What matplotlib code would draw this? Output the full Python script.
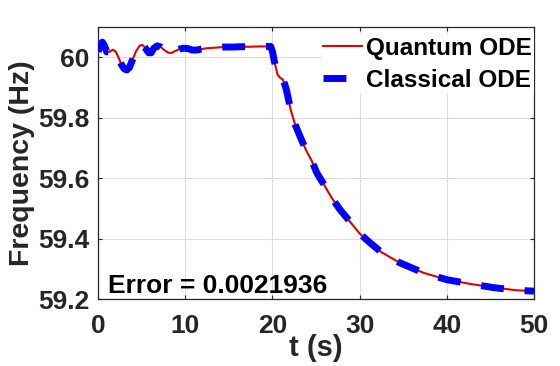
import matplotlib
matplotlib.use("Agg")
import matplotlib.pyplot as plt

plt.rcParams['font.family'] = ['Liberation Sans', 'DejaVu Sans']
plt.rcParams['font.weight'] = 'bold'

# time (s) and frequency (Hz)
t = [0.0, 0.25, 0.5, 0.75, 1.0, 1.3, 1.7, 2.0, 2.3, 2.7, 3.0, 3.3, 3.6, 4.0,
     4.4, 4.8, 5.1, 5.4, 5.8, 6.1, 6.4, 6.8, 7.2, 7.6, 8.0, 8.4, 8.8, 9.3,
     9.8, 10.3, 10.8, 11.3, 11.8, 12.5, 13.5, 14.5, 15.5, 16.5, 17.5, 18.5,
     19.5, 19.8, 20.0, 20.2, 20.4, 20.6, 20.9, 21.2, 21.4, 21.6, 21.85, 22.1,
     22.6, 23.2, 23.9, 24.5, 25.1, 25.8, 26.8, 27.75, 28.7, 30.0, 31.2, 32.5,
     34.6, 37.3, 40.0, 42.7, 45.3, 48.0, 50.0]
freq = [60.018, 60.040, 60.050, 60.038, 60.018, 60.018, 60.025, 60.020,
        60.003, 59.975, 59.962, 59.958, 59.966, 59.995, 60.022, 60.039,
        60.041, 60.032, 60.015, 60.015, 60.030, 60.038, 60.034, 60.024,
        60.016, 60.014, 60.020, 60.027, 60.030, 60.029, 60.024, 60.024,
        60.027, 60.030, 60.032, 60.034, 60.034, 60.035, 60.035, 60.036,
        60.036, 60.036, 60.020, 59.990, 59.965, 59.942, 59.932, 59.926,
        59.912, 59.893, 59.860, 59.826, 59.778, 59.736, 59.690, 59.658,
        59.617, 59.584, 59.535, 59.496, 59.463, 59.417, 59.386, 59.355,
        59.320, 59.287, 59.264, 59.250, 59.238, 59.229, 59.226]

xticks = [0, 10, 20, 30, 40, 50]
yticks = [59.2, 59.4, 59.6, 59.8, 60.0]
ytick_labels = ['59.2', '59.4', '59.6', '59.8', '60']
error_value = 0.0021936

dark = '#262626'

fig = plt.figure(figsize=(5.6, 3.66), dpi=100)
ax = fig.add_axes([0.175, 0.183, 0.7786, 0.743])

ax.plot(t, freq, color='#e00000', linewidth=1.5, label='Quantum ODE', zorder=3)
ax.plot(t, freq, color='#0000ff', linewidth=5, dashes=(3.3, 3.0),
        label='Classical ODE', zorder=4)

ax.set_xlim(0, 50)
ax.set_ylim(59.2, 60.1)
ax.set_xticks(xticks)
ax.set_yticks(yticks)
ax.set_yticklabels(ytick_labels)
ax.grid(True, color='#dcdcdc', linewidth=0.8)
ax.set_axisbelow(True)

ax.tick_params(direction='in', length=3, width=0.8, colors=dark,
               labelsize=19, top=True, right=True)
ax.tick_params(axis='x', pad=11)
ax.tick_params(axis='y', pad=6)
for lab in ax.get_xticklabels() + ax.get_yticklabels():
    lab.set_fontweight('bold')
for sp in ax.spines.values():
    sp.set_color(dark)
    sp.set_linewidth(0.9)

ax.set_xlabel('t (s)', fontsize=21, fontweight='bold', color=dark)
ax.set_ylabel('Frequency (Hz)', fontsize=20.5, fontweight='bold', color=dark)
ax.xaxis.set_label_coords(0.5, -0.13)
ax.yaxis.set_label_coords(-0.145, 0.5)

ax.text(0.023, 0.022, 'Error = %.7f' % error_value, transform=ax.transAxes,
        fontsize=19, fontweight='bold', color='black', va='baseline', ha='left',
        zorder=5)

leg = ax.legend(loc='upper right', bbox_to_anchor=(1.0, 1 - 7 / 272),
                borderaxespad=0, fontsize=17.5, handlelength=1.6,
                handletextpad=0.15, labelspacing=0.38, borderpad=0.1,
                frameon=True, fancybox=False, framealpha=1)
leg.get_frame().set_edgecolor('none')
leg.get_frame().set_facecolor('white')
for txt in leg.get_texts():
    txt.set_fontweight('bold')

fig.savefig('out.png', dpi=100)
